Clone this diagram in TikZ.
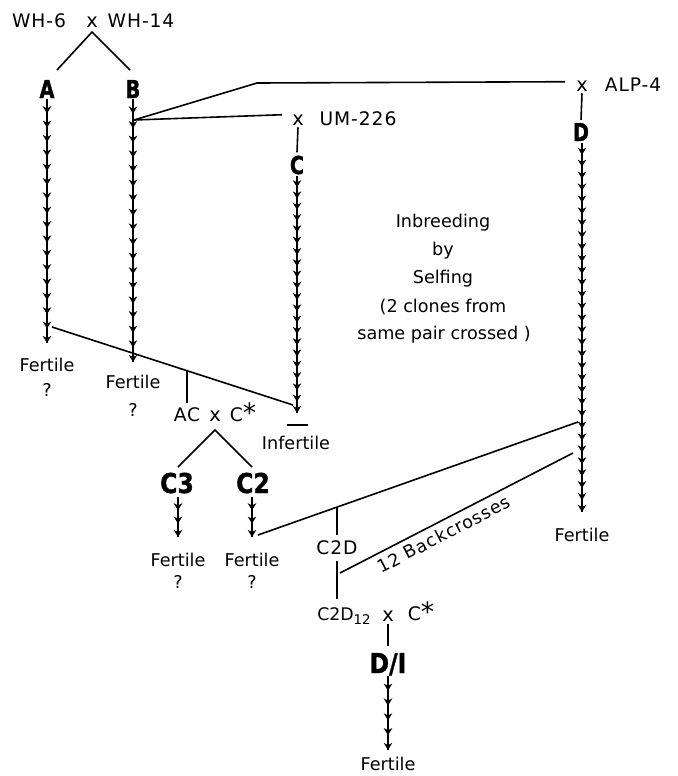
\documentclass[tikz,border=0pt]{standalone}
\usepackage{fontspec}
\setmainfont{DejaVu Sans}
\newfontfamily\widef{DejaVu Sans}[LetterSpace=5]
\newfontfamily\bfA{DejaVu Sans}[FakeStretch=0.78,FakeBold=1.2]
\newfontfamily\bfB{DejaVu Sans}[FakeStretch=0.86,FakeBold=1.2]
\usetikzlibrary{arrows.meta,calc}
\newcommand\arrchain[3]{%
  \draw[ln] (#1) -- (#2);
  \foreach \k in {1,...,#3}{%
    \pgfmathsetmacro\ta{(\k-0.6)/#3}%
    \pgfmathsetmacro\tb{\k/#3}%
    \draw[head] ($(#1)!\ta!(#2)$) -- ($(#1)!\tb!(#2)$);
  }%
}
\begin{document}
\begin{tikzpicture}[x=0.75pt,y=-0.75pt,
  lbl/.style={inner sep=0pt, anchor=base, font=\fontsize{13.2}{15}\selectfont},
  captxt/.style={inner sep=0pt, anchor=base, font=\widef\fontsize{14}{16}\selectfont},
  xx/.style={inner sep=0pt, anchor=base, font=\fontsize{14.5}{16}\selectfont},
  big/.style={inner sep=0pt, anchor=base, font=\bfA\bfseries\fontsize{18.5}{20}\selectfont},
  bigger/.style={inner sep=0pt, anchor=base, font=\bfB\bfseries\fontsize{20.5}{22}\selectfont},
  ln/.style={line width=1.2pt},
  head/.style={-{Stealth[length=5.3pt,width=6.3pt,inset=1.6pt]}, line width=1.2pt},
]
\path[fill=white, use as bounding box] (0,0) rectangle (678,776);

% top cross
\node[captxt] (wh6) at (39,27) {WH-6};
\node[xx] (x1) at (92,27) {x};
\node[captxt] (wh14) at (141,27) {WH-14};
\coordinate (v1) at (92,32);
\coordinate (vA) at (57,70);
\coordinate (vB) at (130,70);
\draw[ln] (vA) -- (v1) -- (vB);

\node[big] (A) at (47,98) {A};
\node[big] (B) at (133,98) {B};

% chains A and B
\coordinate (Atop) at (47,99);
\coordinate (Abot) at (47,343);
\arrchain{Atop}{Abot}{17}
\coordinate (Btop) at (133,99);
\coordinate (Bbot) at (133,362);
\arrchain{Btop}{Bbot}{18}

\node[lbl] (fA) at (47,371) {Fertile};
\node[lbl] (qA) at (47,396) {?};
\node[lbl] (fB) at (133,388) {Fertile};
\node[lbl] (qB) at (133,416) {?};

% crosses from B
\coordinate (J) at (134,120);
\coordinate (k1) at (257,83);
\node[xx] (x2) at (582,91) {x};
\node[captxt] (alp) at (633,91) {ALP-4};
\node[xx] (x3) at (298,125) {x};
\node[captxt] (um) at (358,125) {UM-226};
\draw[ln] (J) -- (k1) -- ($(x2.west)+(-11,-4)$);
\draw[ln] (J) -- ($(x3.west)+(-10,-5)$);

\node[big] (C) at (297,174) {C};
\node[big] (D) at (581,141) {D};
\draw[ln] ($(x3.south)+(0,2)$) -- ($(C.north)+(0,-3)$);
\draw[ln] ($(x2.south)+(0,2)$) -- ($(D.north)+(0,-3)$);

% chain C
\coordinate (Ctop) at (297,176);
\coordinate (Cbot) at (297,413);
\arrchain{Ctop}{Cbot}{21}
\coordinate (barL) at (287,425);
\coordinate (barR) at (308,425);
\draw[line width=2.2pt] (barL) -- (barR);
\node[lbl] (inf) at (296,449) {Infertile};

% chain D
\coordinate (Dtop) at (582,143);
\coordinate (Dbot) at (582,512);
\arrchain{Dtop}{Dbot}{31}
\node[lbl] (fD) at (582,541) {Fertile};

% middle text
\node[lbl] (t1) at (443,227) {Inbreeding};
\node[lbl] (t2) at (443,255) {by};
\node[lbl] (t3) at (443,283) {Selfing};
\node[lbl] (t4) at (443,312) {(2 clones from};
\node[lbl] (t5) at (444,339) {same pair crossed )};

% AC x C*
\coordinate (L1a) at (52,327);
\coordinate (L1b) at (293,405);
\draw[ln] (L1a) -- (L1b);
\coordinate (s1a) at (187,371);
\coordinate (s1b) at (187,403);
\draw[ln] (s1a) -- (s1b);
\node[captxt] (AC) at (187,421) {AC};
\node[xx] (x5) at (215,421) {x};
\node[captxt] (Cs1) at (243,421) {C\raisebox{-1pt}{\fontsize{20}{20}\selectfont *}};
\coordinate (v2) at (215,430);
\coordinate (v2L) at (178,467);
\coordinate (v2R) at (252,467);
\draw[ln] (v2L) -- (v2) -- (v2R);

\node[bigger] (C3) at (177,493) {C3};
\node[bigger] (C2) at (253,493) {C2};
\coordinate (C3top) at (178,497);
\coordinate (C3bot) at (178,537);
\arrchain{C3top}{C3bot}{3}
\coordinate (C2top) at (252,497);
\coordinate (C2bot) at (252,537);
\arrchain{C2top}{C2bot}{3}
\node[lbl] (fC3) at (178,566) {Fertile};
\node[lbl] (qC3) at (178,588) {?};
\node[lbl] (fC2) at (252,566) {Fertile};
\node[lbl] (qC2) at (252,588) {?};

% C2 x D
\coordinate (L2a) at (258,535);
\coordinate (L2b) at (578,422);
\draw[ln] (L2a) -- (L2b);
\coordinate (s2) at (337,507);
\node[captxt] (C2D) at (337,554) {C2D};
\draw[ln] (s2) -- ($(C2D.north)+(0,-5)$);
\node[lbl, anchor=base west, font=\fontsize{13}{15}\selectfont] (C2D12) at (317,620) {C2D\raisebox{-3.5pt}{\fontsize{10}{12}\selectfont 12}};
\draw[ln] ($(C2D.south)+(0,6)$) -- ($(C2D12.north west)+(20,-8)$);
\coordinate (L3a) at (340,573);
\coordinate (L3b) at (573,453);
\draw[ln] (L3a) -- node[pos=0.42, sloped, below=4pt, inner sep=0pt, font=\widef\fontsize{13.2}{15}\selectfont] (bx) {12 Backcrosses} (L3b);

\node[xx] (x4) at (388,621) {x};
\node[captxt] (Cs2) at (421,620) {C\raisebox{-1pt}{\fontsize{20}{20}\selectfont *}};
\node[bigger] (DI) at (388,673) {D/I};
\draw[ln] ($(x4.south)+(0,3)$) -- ($(DI.north)+(0,-7)$);
\coordinate (DItop) at (388,676);
\coordinate (DIbot) at (388,750);
\arrchain{DItop}{DIbot}{5}
\node[lbl] (fDI) at (388,770) {Fertile};
\end{tikzpicture}
\end{document}
